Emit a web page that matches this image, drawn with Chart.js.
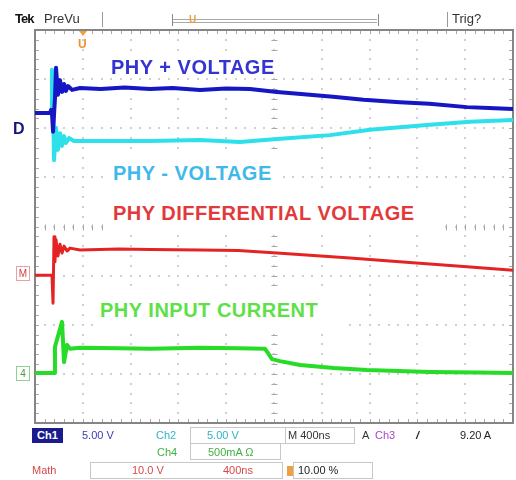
<!DOCTYPE html>
<html>
<head>
<meta charset="utf-8">
<script src="https://cdn.jsdelivr.net/npm/chart.js@4.4.1/dist/chart.umd.min.js"></script>
<style>
  html, body { margin: 0; padding: 0; background: #fff; }
  #wrap { position: relative; width: 516px; height: 480px; overflow: hidden; background: #fff;
          font-family: "Liberation Sans", Arial, sans-serif; }
  #c { position: absolute; left: 0; top: 0; }
  .t { position: absolute; white-space: nowrap; font-size: 11px; line-height: 15px; }
  .lbl { position: absolute; background: #fff; font-weight: bold; font-size: 20px; line-height: 20px;
         white-space: nowrap; display: flex; align-items: center; letter-spacing: 0.5px; }
  .box { position: absolute; border: 1px solid #c8c8c8; box-sizing: border-box; }
  .vl { position: absolute; width: 1px; background: #999; }
</style>
</head>
<body>
<div id="wrap">
  <canvas id="c" width="516" height="480"></canvas>

  <!-- header -->
  <div class="t" style="left:15px;top:11px;font-size:13px;font-weight:bold;color:#111;letter-spacing:-1px;">Tek</div>
  <div class="t" style="left:44px;top:11px;font-size:13px;color:#333;">PreVu</div>
  <div class="vl" style="left:102px;top:12px;height:15px;"></div>
  <div style="position:absolute;left:172px;top:14px;width:205px;height:12px;border-left:1px solid #888;border-right:1px solid #888;"></div>
  <div style="position:absolute;left:173px;top:19px;width:204px;height:2px;border-top:1px solid #aaa;border-bottom:1px solid #aaa;"></div>
  <div class="t" style="left:189px;top:12px;font-size:10px;font-weight:bold;color:#f0a040;">U</div>
  <div class="vl" style="left:447px;top:12px;height:15px;"></div>
  <div class="t" style="left:452px;top:11px;font-size:13px;color:#333;">Trig?</div>

  <!-- trigger position marker -->
  <div style="position:absolute;left:79px;top:31px;width:0;height:0;border-left:4px solid transparent;border-right:4px solid transparent;border-top:5px solid #f0a040;"></div>
  <div class="t" style="left:78px;top:37px;font-size:12px;font-weight:bold;color:#f09030;">U</div>

  <!-- channel ground markers -->
  <div class="t" style="left:13px;top:120px;font-size:16px;line-height:18px;font-weight:bold;color:#14147a;">D</div>
  <div class="t" style="left:16px;top:266px;width:14px;height:15px;border:1px solid #e8a0a0;box-sizing:border-box;font-size:10px;line-height:13px;text-align:center;color:#d04040;">M</div>
  <div class="t" style="left:16px;top:366px;width:14px;height:15px;border:1px solid #90d090;box-sizing:border-box;font-size:10px;line-height:13px;text-align:center;color:#40a040;">4</div>

  <!-- trace labels -->
  <div class="lbl" style="left:104px;top:56px;height:21px;padding:0 7px;color:#3434d2;">PHY + VOLTAGE</div>
  <div class="lbl" style="left:106px;top:153px;height:40px;padding:0 7px;color:#3fb8ea;">PHY - VOLTAGE</div>
  <div class="lbl" style="left:107px;top:193px;height:39px;padding:0 24px 0 6px;color:#e23a3a;align-items:flex-start;"><span style="margin-top:10px;">PHY DIFFERENTIAL VOLTAGE</span></div>
  <div class="lbl" style="left:94px;top:288px;height:44px;padding:0 30px 0 6px;color:#5ee046;">PHY INPUT CURRENT</div>

  <!-- footer row 1 -->
  <div class="t" style="left:32px;top:428px;width:31px;height:15px;background:#1b1b8e;color:#fff;font-weight:bold;text-align:center;">Ch1</div>
  <div class="t" style="left:82px;top:428px;color:#3a3ab4;">5.00 V</div>
  <div class="t" style="left:156px;top:428px;color:#30b4c4;">Ch2</div>
  <div class="box" style="left:190px;top:427px;width:96px;height:17px;"></div>
  <div class="t" style="left:207px;top:428px;color:#30b4c4;">5.00 V</div>
  <div class="box" style="left:285px;top:427px;width:70px;height:17px;"></div>
  <div class="t" style="left:288px;top:428px;color:#333;">M 400ns</div>
  <div class="t" style="left:362px;top:428px;color:#333;">A</div>
  <div class="t" style="left:375px;top:428px;color:#a848c4;">Ch3</div>
  <div class="t" style="left:416px;top:428px;color:#222;font-weight:bold;font-style:italic;">/</div>
  <div class="t" style="left:460px;top:428px;color:#222;">9.20 A</div>
  <!-- footer row 2 -->
  <div class="t" style="left:157px;top:445px;color:#40b040;">Ch4</div>
  <div class="box" style="left:190px;top:443px;width:91px;height:17px;"></div>
  <div class="t" style="left:208px;top:445px;color:#40b040;">500mA Ω</div>
  <!-- footer row 3 -->
  <div class="t" style="left:32px;top:463px;color:#d84848;">Math</div>
  <div class="box" style="left:90px;top:462px;width:193px;height:17px;"></div>
  <div class="t" style="left:132px;top:463px;color:#d84848;">10.0 V</div>
  <div class="t" style="left:223px;top:463px;color:#d84848;">400ns</div>
  <div style="position:absolute;left:287px;top:466px;width:6px;height:10px;background:#f0a040;"></div>
  <div class="box" style="left:293px;top:462px;width:80px;height:17px;"></div>
  <div class="t" style="left:298px;top:463px;color:#222;">10.00 %</div>
</div>

<script>
// time axis in ns (400 ns/div, 10 divisions); vertical position in divisions (0..8)
const timeRange = [0, 4000];
const divRange = [0, 8];
const seriesNames = ["PHY + VOLTAGE", "PHY - VOLTAGE", "PHY DIFFERENTIAL VOLTAGE", "PHY INPUT CURRENT"];

const blueTime  = [0,126,134,142,151,167,176,192,209,226,243,259,276,310,377,550,750,962,1150,1381,1600,1799,2025,2250,2494,2750,3054,3300,3615,3800,4000];
const blueLevel = [6.31,6.31,6.37,6.31,5.93,6.61,7.23,6.68,6.98,6.74,6.90,6.76,6.86,6.78,6.82,6.80,6.83,6.80,6.82,6.78,6.81,6.80,6.74,6.69,6.64,6.58,6.53,6.50,6.43,6.41,6.39];

const cyanTime  = [0,134,142,151,159,176,192,209,226,243,259,285,326,544,962,1381,1715,2025,2469,2803,3305,3640,4000];
const cyanLevel = [6.31,6.31,7.19,6.58,5.35,6.01,5.56,5.90,5.64,5.84,5.70,5.80,5.74,5.74,5.74,5.76,5.72,5.78,5.86,5.97,6.07,6.13,6.17];

const redTime  = [0,142,151,159,167,176,192,209,226,243,268,293,377,700,962,1381,1700,2025,2636,3163,3615,4000];
const redLevel = [3.01,3.01,2.44,3.79,3.28,3.73,3.40,3.64,3.46,3.60,3.50,3.56,3.52,3.54,3.53,3.52,3.51,3.46,3.36,3.26,3.18,3.11];

const greenTime  = [0,159,167,226,243,268,293,377,700,962,1381,1700,1925,1950,1983,2050,2218,2500,2778,3305,3700,4000];
const greenLevel = [1.02,1.02,1.55,2.06,1.24,1.59,1.51,1.53,1.52,1.51,1.53,1.52,1.51,1.42,1.30,1.26,1.18,1.12,1.08,1.04,1.03,1.02];

const pts = (t, v) => t.map((x, i) => ({ x: x, y: v[i] }));

const graticule = {
  id: 'graticule',
  beforeDatasetsDraw(chart) {
    const { ctx, chartArea: a, scales: { x, y } } = chart;
    ctx.save();
    // dotted major grid
    ctx.fillStyle = '#d0d0d0';
    for (let i = 1; i < 10; i++) {
      const px = Math.round(x.getPixelForValue(i * 400));
      for (let j = 1; j < 40; j++) {
        const py = Math.round(y.getPixelForValue(j * 0.2));
        ctx.fillRect(px - 1, py - 1, 2, 2);
      }
    }
    for (let j = 1; j < 8; j++) {
      const py = Math.round(y.getPixelForValue(j));
      for (let i = 1; i < 50; i++) {
        const px = Math.round(x.getPixelForValue(i * 80));
        ctx.fillRect(px - 1, py - 1, 2, 2);
      }
    }
    // center cross minor ticks
    ctx.strokeStyle = '#a8a8a8';
    ctx.lineWidth = 1;
    const cx = Math.round(x.getPixelForValue(2000)) + 0.5;
    const cy = Math.round(y.getPixelForValue(4)) + 0.5;
    ctx.beginPath();
    for (let j = 1; j < 40; j++) {
      const py = Math.round(y.getPixelForValue(j * 0.2)) + 0.5;
      ctx.moveTo(cx - 3, py); ctx.lineTo(cx + 3, py);
    }
    for (let i = 1; i < 50; i++) {
      const px = Math.round(x.getPixelForValue(i * 80)) + 0.5;
      ctx.moveTo(px, cy - 3); ctx.lineTo(px, cy + 3);
    }
    ctx.stroke();
    // edge ticks
    ctx.beginPath();
    for (let i = 1; i < 50; i++) {
      const px = Math.round(x.getPixelForValue(i * 80)) + 0.5;
      ctx.moveTo(px, a.top); ctx.lineTo(px, a.top + 4);
      ctx.moveTo(px, a.bottom); ctx.lineTo(px, a.bottom - 4);
    }
    for (let j = 1; j < 40; j++) {
      const py = Math.round(y.getPixelForValue(j * 0.2)) + 0.5;
      ctx.moveTo(a.left, py); ctx.lineTo(a.left + 4, py);
      ctx.moveTo(a.right, py); ctx.lineTo(a.right - 4, py);
    }
    ctx.stroke();
    // frame
    ctx.strokeStyle = '#858585';
    ctx.lineWidth = 2;
    ctx.strokeRect(a.left, a.top, a.right - a.left, a.bottom - a.top);
    ctx.restore();
  }
};

new Chart(document.getElementById('c'), {
  type: 'line',
  data: {
    datasets: [
      { label: seriesNames[0], data: pts(blueTime, blueLevel), borderColor: '#1616c4', borderWidth: 4 },
      { label: seriesNames[1], data: pts(cyanTime, cyanLevel), borderColor: '#2ee0ea', borderWidth: 4 },
      { label: seriesNames[2], data: pts(redTime, redLevel), borderColor: '#e42424', borderWidth: 3 },
      { label: seriesNames[3], data: pts(greenTime, greenLevel), borderColor: '#26dc26', borderWidth: 4 }
    ]
  },
  options: {
    responsive: false,
    devicePixelRatio: 1,
    animation: false,
    layout: { padding: { left: 35, top: 30, right: 3, bottom: 57 } },
    elements: { point: { radius: 0 }, line: { tension: 0, borderJoinStyle: 'round', borderCapStyle: 'round' } },
    scales: {
      x: { type: 'linear', min: timeRange[0], max: timeRange[1], display: false },
      y: { type: 'linear', min: divRange[0], max: divRange[1], display: false }
    },
    plugins: { legend: { display: false }, tooltip: { enabled: false } }
  },
  plugins: [graticule]
});
</script>
</body>
</html>
